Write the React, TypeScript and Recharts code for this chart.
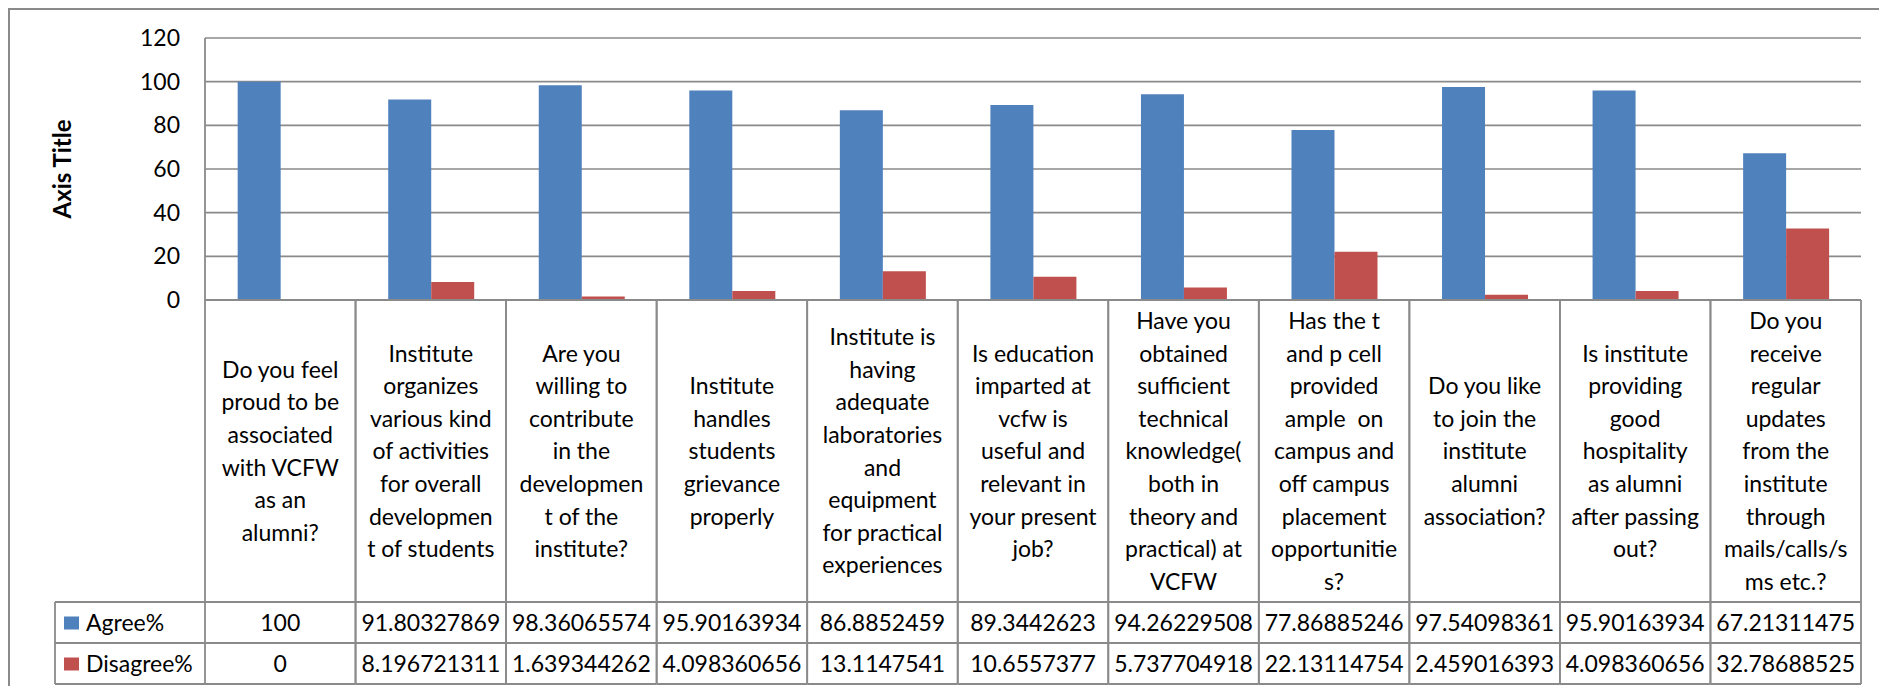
import React from "react";
import { BarChart, Bar, XAxis, YAxis, CartesianGrid, Label } from "recharts";

// question text, broken the same way as the table header cells
const categoryLines: string[][] = [
  ["Do you feel", "proud to be", "associated", "with VCFW", "as an", "alumni?"],
  ["Institute", "organizes", "various kind", "of activities", "for overall", "developmen", "t of students"],
  ["Are you", "willing to", "contribute", "in the", "developmen", "t of the", "institute?"],
  ["Institute", "handles", "students", "grievance", "properly"],
  ["Institute is", "having", "adequate", "laboratories", "and", "equipment", "for practical", "experiences"],
  ["Is education", "imparted at", "vcfw is", "useful and", "relevant in", "your present", "job?"],
  ["Have you", "obtained", "sufficient", "technical", "knowledge(", "both in", "theory and", "practical) at", "VCFW"],
  ["Has the t", "and p cell", "provided", "ample  on", "campus and", "off campus", "placement", "opportunitie", "s?"],
  ["Do you like", "to join the", "institute", "alumni", "association?"],
  ["Is institute", "providing", "good", "hospitality", "as alumni", "after passing", "out?"],
  ["Do you", "receive", "regular", "updates", "from the", "institute", "through", "mails/calls/s", "ms etc.?"],
];

const agree = [
  100, 91.80327869, 98.36065574, 95.90163934, 86.8852459, 89.3442623,
  94.26229508, 77.86885246, 97.54098361, 95.90163934, 67.21311475,
];

const disagree = [
  0, 8.196721311, 1.639344262, 4.098360656, 13.1147541, 10.6557377,
  5.737704918, 22.13114754, 2.459016393, 4.098360656, 32.78688525,
];

const yTicks = [0, 20, 40, 60, 80, 100, 120];

const seriesNames = ["Agree%", "Disagree%"];
const seriesColors = ["#4F81BD", "#C0504D"];

const data = categoryLines.map((lines, i) => ({
  name: lines.join(" "),
  agree: agree[i],
  disagree: disagree[i],
}));

// layout
const FONT = "Lato, 'Liberation Sans', sans-serif";
const LINE_COLOR = "#8a8a8a";
const CHART_W = 1870;
const CHART_H = 676;
const MARGIN = { top: 28, right: 19, left: 0, bottom: 0 };
const Y_AXIS_W = 195;
const X_AXIS_H = 386;
const PLOT_BOTTOM = CHART_H - MARGIN.bottom - X_AXIS_H;
const BAND = (CHART_W - MARGIN.left - Y_AXIS_W - MARGIN.right) / categoryLines.length;
const HEADER_H = 302;
const ROW_H = 41;
const LINE_H = 32.6;
const BASE_SHIFT = 8.3; // baseline offset from the visual centre
const LEGEND_LEFT = 45;

const TableTick = (props: any) => {
  const { x, payload } = props;
  const i = props.index ?? payload.index;
  const lines = categoryLines[i] || [];
  const x0 = x - BAND / 2;
  const x1 = x + BAND / 2;
  const top = PLOT_BOTTOM;
  const headBottom = top + HEADER_H;
  const row1 = headBottom + ROW_H;
  const row2 = row1 + ROW_H;
  const headMid = top + HEADER_H / 2;
  const firstY = headMid - ((lines.length - 1) / 2) * LINE_H + BASE_SHIFT;
  const values = [agree[i], disagree[i]];

  return (
    <g>
      <line x1={x0} y1={top} x2={x0} y2={row2} stroke={LINE_COLOR} strokeWidth={1.8} />
      <line x1={x1} y1={top} x2={x1} y2={row2} stroke={LINE_COLOR} strokeWidth={1.8} />
      <line x1={x0} y1={headBottom} x2={x1} y2={headBottom} stroke={LINE_COLOR} strokeWidth={1.8} />
      <line x1={x0} y1={row1} x2={x1} y2={row1} stroke={LINE_COLOR} strokeWidth={1.8} />
      <line x1={x0} y1={row2} x2={x1} y2={row2} stroke={LINE_COLOR} strokeWidth={1.8} />
      <text textAnchor="middle" fontFamily={FONT} fontSize={23} fill="#000" style={{ whiteSpace: "pre" }}>
        {lines.map((ln, k) => (
          <tspan key={k} x={x} y={firstY + k * LINE_H}>
            {ln}
          </tspan>
        ))}
      </text>
      {values.map((v, r) => (
        <text
          key={r}
          x={x}
          y={headBottom + ROW_H * r + ROW_H / 2 + BASE_SHIFT}
          textAnchor="middle"
          fontFamily={FONT}
          fontSize={23}
          fill="#000"
        >
          {String(v)}
        </text>
      ))}
      {i === 0 && (
        <g>
          <line x1={LEGEND_LEFT} y1={headBottom} x2={x0} y2={headBottom} stroke={LINE_COLOR} strokeWidth={1.8} />
          <line x1={LEGEND_LEFT} y1={row1} x2={x0} y2={row1} stroke={LINE_COLOR} strokeWidth={1.8} />
          <line x1={LEGEND_LEFT} y1={row2} x2={x0} y2={row2} stroke={LINE_COLOR} strokeWidth={1.8} />
          <line x1={LEGEND_LEFT} y1={headBottom} x2={LEGEND_LEFT} y2={row2} stroke={LINE_COLOR} strokeWidth={1.8} />
          {seriesNames.map((nm, r) => {
            const mid = headBottom + ROW_H * r + ROW_H / 2;
            return (
              <g key={nm}>
                <rect x={LEGEND_LEFT + 9} y={mid - 6} width={15} height={13} fill={seriesColors[r]} />
                <text x={LEGEND_LEFT + 31} y={mid + BASE_SHIFT} fontFamily={FONT} fontSize={23} fill="#000">
                  {nm}
                </text>
              </g>
            );
          })}
        </g>
      )}
    </g>
  );
};

const AxisTitle = (props: any) => {
  const vb = props.viewBox || { x: 0, y: MARGIN.top, width: Y_AXIS_W, height: PLOT_BOTTOM - MARGIN.top };
  const cx = vb.x + 51;
  const cy = vb.y + vb.height / 2;
  return (
    <text
      x={cx}
      y={cy}
      transform={`rotate(-90, ${cx}, ${cy})`}
      textAnchor="middle"
      dominantBaseline="central"
      fontFamily={FONT}
      fontSize={24}
      fontWeight="bold"
      fill="#000"
    >
      Axis Title
    </text>
  );
};

export default function App() {
  return (
    <div
      style={{
        width: CHART_W + 2,
        height: CHART_H + 2,
        boxSizing: "border-box",
        borderTop: `2px solid ${LINE_COLOR}`,
        borderLeft: `2px solid ${LINE_COLOR}`,
        fontFamily: FONT,
        background: "#fff",
      }}
    >
      <BarChart
        width={CHART_W}
        height={CHART_H}
        data={data}
        margin={MARGIN}
        barCategoryGap="21.7%"
        barGap={0}
      >
        <CartesianGrid vertical={false} stroke={LINE_COLOR} strokeWidth={1.7} />
        <XAxis
          dataKey="name"
          height={X_AXIS_H}
          interval={0}
          tickSize={0}
          tickLine={false}
          axisLine={{ stroke: LINE_COLOR, strokeWidth: 1.8 }}
          tick={<TableTick />}
        />
        <YAxis
          width={Y_AXIS_W}
          domain={[0, 120]}
          ticks={yTicks}
          interval={0}
          tickSize={0}
          tickMargin={25}
          tickLine={false}
          axisLine={{ stroke: LINE_COLOR, strokeWidth: 1.8 }}
          tick={{ fill: "#000", fontSize: 23, fontFamily: FONT }}
        >
          <Label content={<AxisTitle />} />
        </YAxis>
        <Bar dataKey="agree" name={seriesNames[0]} fill={seriesColors[0]} isAnimationActive={false} />
        <Bar dataKey="disagree" name={seriesNames[1]} fill={seriesColors[1]} isAnimationActive={false} />
      </BarChart>
    </div>
  );
}
